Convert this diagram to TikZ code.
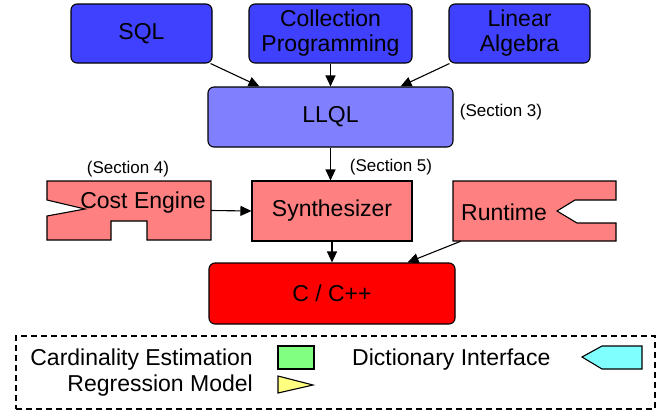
\documentclass[tikz,border=0pt]{standalone}
\usepackage{fontspec}
\setmainfont{Liberation Sans}
\usetikzlibrary{arrows.meta,calc}
\definecolor{topblue}{HTML}{4040FF}
\definecolor{llqlblue}{HTML}{8080FF}
\definecolor{pinkred}{HTML}{FF8080}
\definecolor{fullred}{HTML}{FF0000}
\definecolor{lgreen}{HTML}{80FF80}
\definecolor{lyellow}{HTML}{FFFF80}
\definecolor{lcyan}{HTML}{80FFFF}
\begin{document}
\begin{tikzpicture}[x=1pt,y=-1pt,
  box/.style={draw=black, line width=1.1pt, inner sep=0pt, align=center, font=\fontsize{23}{25}\selectfont},
  rbox/.style={box, rounded corners=6pt},
  ghost/.style={inner sep=0pt, draw=none},
  shapeline/.style={draw=black, line width=1.1pt, line join=miter},
  arr/.style={line width=1.1pt, -{Triangle[length=11pt,width=10pt]}},
  sect/.style={font=\fontsize{17}{19}\selectfont, inner sep=0pt},
  lgtext/.style={font=\fontsize{23}{25}\selectfont, inner sep=0pt}
]
\useasboundingbox (0,0) rectangle (672,413);

% top boxes
\node[rbox, fill=topblue, minimum width=141pt, minimum height=59pt] (sql) at (141.5,33.5) {SQL};
\node[rbox, fill=topblue, minimum width=163pt, minimum height=59pt] (coll) at (330.5,33.5) {Collection\\Programming};
\node[rbox, fill=topblue, minimum width=141pt, minimum height=59pt] (lin) at (519.5,33.5) {Linear\\Algebra};

% LLQL
\node[rbox, fill=llqlblue, minimum width=245pt, minimum height=60pt] (llql) at (330.5,117) {LLQL};
\node[sect] (s3) at (501,112) {(Section 3)};

% Cost Engine shape
\node[ghost, minimum width=164pt, minimum height=59pt] (ce) at (129,210.5) {};
\path[shapeline, fill=pinkred] (47,181) -- (211,181) -- (211,240) -- (147,240) -- (147,221)
  -- (111,221) -- (111,240) -- (47,240) -- (47,216) -- (85,209) -- (47,200) -- cycle;
\node[inner sep=0pt, font=\fontsize{23}{25}\selectfont] (celabel) at (143,203) {Cost Engine};
\node[sect] (s4) at (128,169) {(Section 4)};

% Synthesizer
\node[box, fill=pinkred, minimum width=160pt, minimum height=60pt] (syn) at (332,211) {Synthesizer};
\node[sect] (s5) at (391,167) {(Section 5)};

% Runtime shape
\node[ghost, minimum width=163pt, minimum height=60pt] (rt) at (534.5,211) {};
\path[shapeline, fill=pinkred] (453,181) -- (616,181) -- (616,200) -- (575,200) -- (557,211)
  -- (577,223) -- (616,223) -- (616,241) -- (453,241) -- cycle;
\node[inner sep=0pt, font=\fontsize{23}{25}\selectfont] (rtlabel) at (504,212) {Runtime};

% C / C++
\node[rbox, fill=fullred, minimum width=246pt, minimum height=61pt] (cpp) at (332,293.5) {C / C++};

% connectors
\draw[arr] ([xshift=-2pt]sql.south east) -- ([xshift=52pt]llql.north west);
\draw[arr] (coll.south) -- (llql.north);
\draw[arr] ([xshift=1pt]lin.south west) -- ([xshift=-53pt]llql.north east);
\draw[arr] (llql.south) -- (llql.south |- syn.north);
\draw[arr] (ce.east) -- (syn.west);
\draw[arr] (syn.south) -- (cpp.north);
\draw[arr] ([xshift=8pt]rt.south west) -- ([xshift=-48pt]cpp.north east);

% legend
\node[draw=black, line width=1.1pt, dash pattern=on 6pt off 4pt, minimum width=639pt, minimum height=73pt, inner sep=0pt] (legend) at (335.5,372.5) {};
\node[lgtext, anchor=base east] (lg1) at (253,365) {Cardinality Estimation};
\node[lgtext, anchor=base east] (lg2) at (253,391) {Regression Model};
\node[lgtext, anchor=base west] (lg3) at (352,365) {Dictionary Interface};
\path[shapeline, fill=lgreen] (278,346) rectangle (314,369);
\path[shapeline, fill=lyellow] (278,376) -- (313,385) -- (278,393) -- cycle;
\path[shapeline, fill=lcyan] (582,357) -- (602,346) -- (642,346) -- (642,369) -- (602,369) -- cycle;
\end{tikzpicture}
\end{document}
